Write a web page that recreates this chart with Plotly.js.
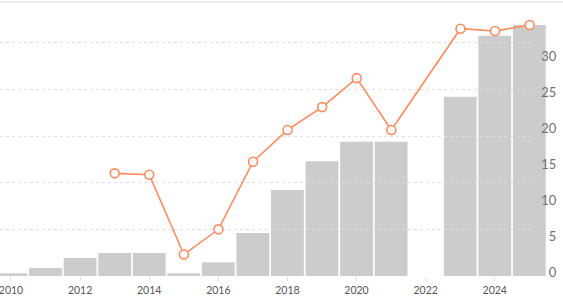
<!DOCTYPE html>
<html>
<head>
<meta charset="utf-8">
<script src="https://cdn.plot.ly/plotly-3.0.1.min.js"></script>
<style>html,body{margin:0;padding:0;background:#fff;}#chart{width:563px;height:304px;}</style>
</head>
<body>
<div id="chart"></div>
<script>
// Data
const years = [2010, 2011, 2012, 2013, 2014, 2015, 2016, 2017, 2018, 2019, 2020, 2021, 2022, 2023, 2024, 2025];
const barValues = [0.4, 1.1, 2.5, 3.2, 3.2, 0.4, 1.9, 6, 12, 16, 18.7, 18.7, null, 25, 33.5, 35];
const lineValues = [null, null, null, 11.0, 10.85, 2.3, 5.0, 12.25, 15.65, 18.1, 21.2, 15.65, null, 26.5, 26.25, 26.9];
const xTickVals = [2010, 2012, 2014, 2016, 2018, 2020, 2022, 2024];
const barTickVals = [0, 5, 10, 15, 20, 25, 30];

const W = 563;
const traces = [
  {
    type: 'bar', x: years, y: barValues, xaxis: 'x', yaxis: 'y',
    marker: {color: '#cccccc', line: {width: 0}}, hoverinfo: 'skip'
  },
  {
    type: 'scatter', mode: 'lines+markers', x: years, y: lineValues, xaxis: 'x2', yaxis: 'y2',
    connectgaps: true, cliponaxis: false,
    line: {color: '#ff8a5c', width: 1.6},
    marker: {symbol: 'circle', size: 9, color: '#ffffff', line: {color: '#ff8a5c', width: 1.6}},
    hoverinfo: 'skip'
  }
];

const layout = {
  width: 563, height: 304,
  margin: {l: 0, r: 0, t: 2, b: 28, pad: 0},
  paper_bgcolor: '#ffffff', plot_bgcolor: 'rgba(0,0,0,0)',
  showlegend: false,
  bargap: 0.05,
  font: {family: 'Lato, "Open Sans", sans-serif', color: '#666'},
  xaxis: {
    domain: [0, 546.6 / W], range: [2009.682, 2025.5], anchor: 'y',
    tickvals: xTickVals, ticks: 'outside', ticklen: 4, tickcolor: '#dddddd', tickwidth: 1,
    showgrid: false, zeroline: false, showline: false, ticklabeloverflow: 'allow',
    tickfont: {size: 10.5, color: '#555'}
  },
  yaxis: {
    domain: [0, 1], range: [0, 38.2], anchor: 'free', position: 0.988, side: 'left',
    tickvals: barTickVals, showgrid: false, zeroline: false, showline: false, ticks: '',
    tickfont: {size: 13, color: '#707070'}, ticklabelshift: -4, ticklabeloverflow: 'allow'
  },
  xaxis2: {
    domain: [0, 529.6 / W], range: [2009.682, 2025], anchor: 'y2', visible: false
  },
  yaxis2: {
    domain: [0, 1], range: [0, 29.36], anchor: 'x2', dtick: 5, tick0: 0,
    showgrid: true, gridcolor: '#e0e0e0', gridwidth: 1, griddash: 'dot',
    zeroline: false, showticklabels: false, ticks: '', showline: false
  },
  shapes: [
    {type: 'line', xref: 'paper', yref: 'paper', x0: 0, x1: 1, y0: 1, y1: 1,
     line: {color: '#e6e6e6', width: 1.5}}
  ]
};

Plotly.newPlot('chart', traces, layout, {staticPlot: true, displayModeBar: false});
</script>
</body>
</html>
